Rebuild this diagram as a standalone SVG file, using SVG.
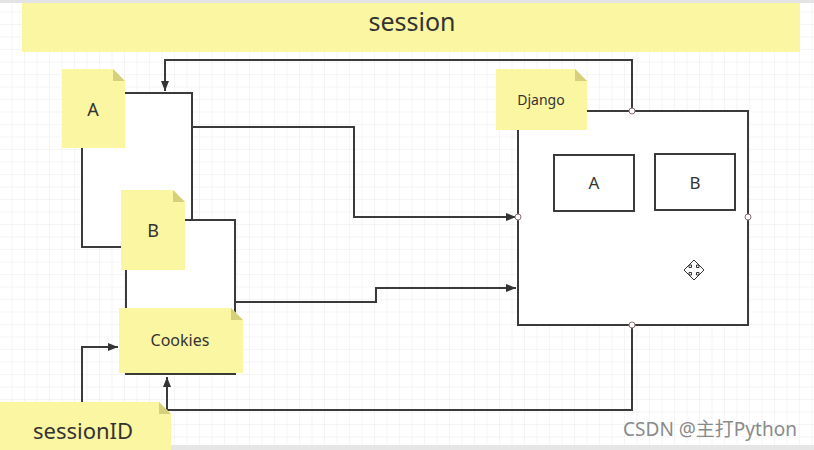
<svg xmlns="http://www.w3.org/2000/svg" width="814" height="450" viewBox="0 0 814 450">
<defs>
<pattern id="grid" width="12.5" height="12.5" patternUnits="userSpaceOnUse">
<path d="M12.5 0 V12.5 M0 12.5 H12.5" fill="none" stroke="#ebebeb" stroke-width="1"/>
</pattern>
<marker id="arr" viewBox="0 0 10 10" refX="10" refY="5" markerWidth="10" markerHeight="10" markerUnits="userSpaceOnUse" orient="auto">
<path d="M0 1 L10 5 L0 9 Z" fill="#333"/>
</marker>
</defs>
<style>
.ln{fill:none;stroke:#3a3a3a;stroke-width:2}
.box{fill:#fff;stroke:#3a3a3a;stroke-width:2}
.note{fill:#fbf6a1}
.fold{fill:#d6d07c}
.t{font-family:"Noto Sans","Open Sans",sans-serif;fill:#333;text-anchor:middle}
.dot{fill:#fff;stroke:#8a7070;stroke-width:1}
</style>
<rect width="814" height="450" fill="#fff"/>
<rect width="814" height="450" fill="url(#grid)"/>
<rect x="0" y="0" width="814" height="3" fill="#e4e4e4"/>
<rect x="0" y="445" width="814" height="5" fill="#e6e6e6"/>

<g id="session">
<rect x="22" y="3" width="778" height="49" class="note"/>
<text x="412" y="31" class="t" font-size="25">session</text>
</g>

<g id="rectA"><rect x="82" y="93" width="110" height="154" class="box"/></g>
<g id="rectB"><rect x="126" y="220" width="109" height="154" class="box"/></g>

<g id="django">
<rect x="518" y="111" width="230" height="214" class="box"/>
</g>
<g id="django-a"><rect x="554" y="155" width="80" height="56" class="box"/><text x="594" y="189" class="t" font-size="17">A</text></g>
<g id="django-b"><rect x="655" y="154" width="80" height="56" class="box"/><text x="695" y="189" class="t" font-size="17">B</text></g>

<g id="connectors">
<path class="ln" d="M632 111 V60 H165 V91" marker-end="url(#arr)"/>
<path class="ln" d="M192 127 H354 V217 H516" marker-end="url(#arr)"/>
<path class="ln" d="M235 302 H376 V288 H516" marker-end="url(#arr)"/>
<path class="ln" d="M632 325 V410 H167 V377" marker-end="url(#arr)"/>
<path class="ln" d="M82 402 V347 H118" marker-end="url(#arr)"/>
</g>

<g id="noteA">
<path d="M62 69 H113 L125 81 V148 H62 Z" class="note"/>
<path d="M113 69 L125 81 H113 Z" class="fold"/>
<text x="93" y="116" class="t" font-size="18">A</text>
</g>
<g id="noteB">
<path d="M121 190 H173 L185 202 V270 H121 Z" class="note"/>
<path d="M173 190 L185 202 H173 Z" class="fold"/>
<text x="153" y="237" class="t" font-size="18">B</text>
</g>
<g id="cookies">
<path d="M119 308 H231 L243 320 V373 H119 Z" class="note"/>
<path d="M231 308 L243 320 H231 Z" class="fold"/>
<text x="180" y="346" class="t" font-size="16">Cookies</text>
</g>
<g id="sessionID">
<path d="M0 402 H159 L171 414 V450 H0 Z" class="note"/>
<path d="M159 402 L171 414 H159 Z" class="fold"/>
<text x="83" y="439" class="t" font-size="22">sessionID</text>
</g>
<g id="djangoNote">
<path d="M496 69 H575 L587 81 V130 H496 Z" class="note"/>
<path d="M575 69 L587 81 H575 Z" class="fold"/>
<text x="541" y="105" class="t" font-size="14">Django</text>
</g>

<g id="handles">
<circle cx="632" cy="111" r="3" class="dot"/>
<circle cx="518" cy="217" r="3" class="dot"/>
<circle cx="748" cy="217" r="3" class="dot"/>
<circle cx="632" cy="325" r="3" class="dot"/>
</g>

<g id="cursor" fill="#fff" stroke="#333" stroke-width="1">
<path d="M694 260 L699 265 H696.5 V267.5 H699 V265 L704 270 L699 275 V272.5 H696.5 V275 H699 L694 280 L689 275 H691.5 V272.5 H689 V275 L684 270 L689 265 V267.5 H691.5 V265 H689 Z"/>
</g>

<text x="710" y="436" font-family="Noto Sans, Noto Sans CJK SC, sans-serif" font-size="19" fill="#8a8a8a" text-anchor="middle">CSDN @主打Python</text>
</svg>
